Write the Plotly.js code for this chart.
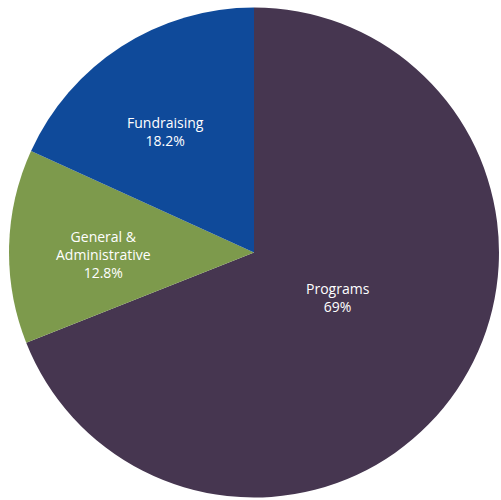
<!DOCTYPE html>
<html><head><meta charset="utf-8">
<script src="https://cdn.plot.ly/plotly-3.0.1.min.js"></script>
<style>html,body{margin:0;padding:0;background:#fff}#c{width:501px;height:500px}</style>
</head><body><div id="c"></div>
<script>
const labels = ["Programs", "General &<br>Administrative", "Fundraising"];
const values = [69, 12.8, 18.2];
const valueTexts = ["69%", "12.8%", "18.2%"];
const colors = ["#463650", "#7d9a4c", "#0f4a9a"];
const labelPos = [[0.674, 0.405], [0.206, 0.492], [0.331, 0.738]];
const annotations = labels.map((l, i) => ({
  text: l + '<br>' + valueTexts[i], xref: 'paper', yref: 'paper',
  x: labelPos[i][0], y: labelPos[i][1], xanchor: 'center', yanchor: 'middle',
  showarrow: false, align: 'center',
  font: {family: 'Open Sans, sans-serif', size: 14, color: '#ffffff'}
}));
Plotly.newPlot('c', [{
  type: 'pie', labels: labels, values: values,
  textinfo: 'none',
  sort: false, direction: 'clockwise', rotation: 0,
  marker: {colors: colors, line: {width: 0}},
  domain: {x: [0.018, 0.996], y: [0.004, 0.986]},
  hoverinfo: 'none'
}], {
  width: 501, height: 500, margin: {l:0, r:0, t:0, b:0},
  showlegend: false, paper_bgcolor: '#ffffff', annotations: annotations
}, {displayModeBar: false, staticPlot: true});
</script></body></html>
